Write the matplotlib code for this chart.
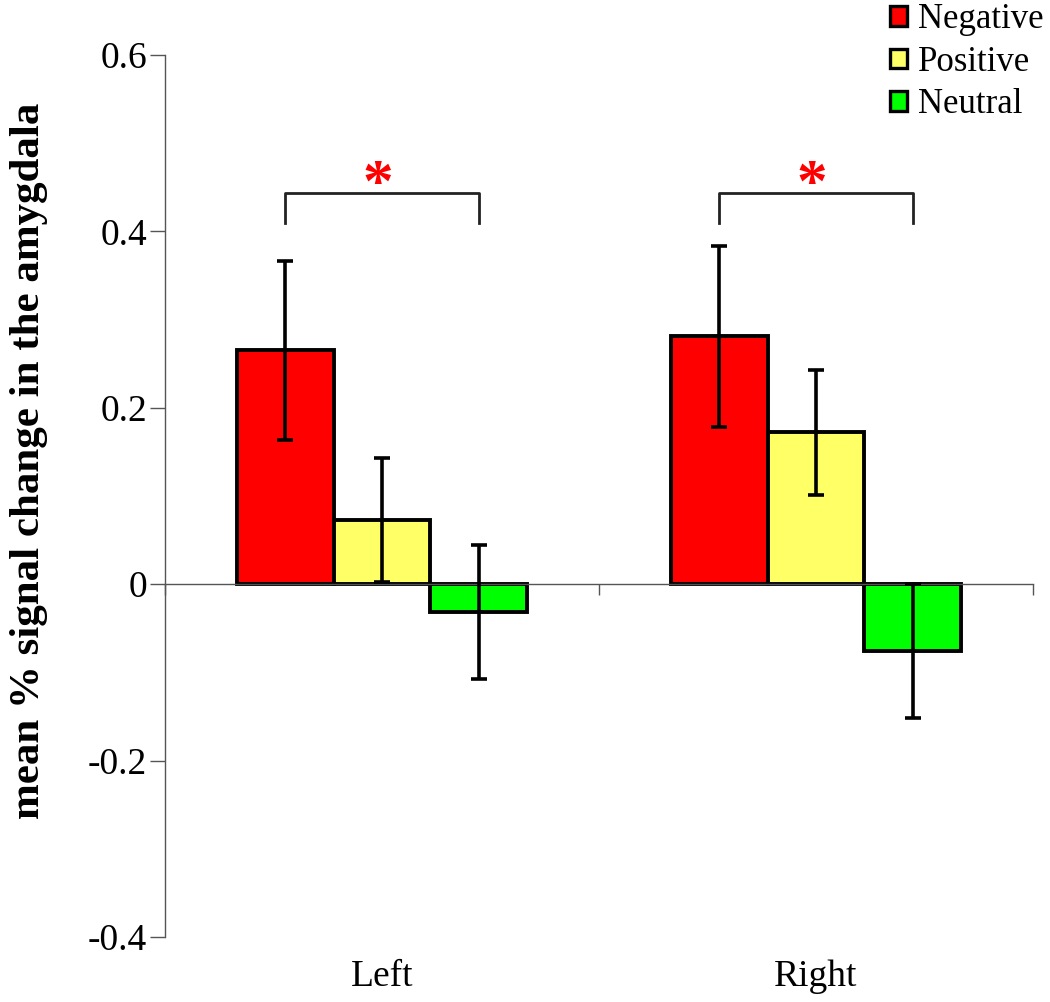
import numpy as np
import matplotlib
matplotlib.use("Agg")
import matplotlib.pyplot as plt

plt.rcParams['font.family'] = ['Liberation Serif', 'DejaVu Serif']

# --- data --- #
sides = ["Left", "Right"]
conditions = ["Negative", "Positive", "Neutral"]
colors = ["#FF0000", "#FFFF66", "#00FF00"]
means = {
    "Negative": [0.265, 0.281],
    "Positive": [0.073, 0.172],
    "Neutral": [-0.032, -0.076],
}
errors = {
    "Negative": [0.102, 0.103],
    "Positive": [0.070, 0.071],
    "Neutral": [0.076, 0.076],
}
yticks = [0.6, 0.4, 0.2, 0, -0.2, -0.4]
ytick_labels = ["0.6", "0.4", "0.2", "0", "-0.2", "-0.4"]

# --- figure --- #
fig = plt.figure(figsize=(10.5, 10.02), dpi=100)
ax = fig.add_axes([165 / 1050, 65 / 1002, 868 / 1050, 882 / 1002])

x = np.arange(len(sides))
w = 0.2235
for i, cond in enumerate(conditions):
    ax.bar(x + (i - 1) * w, means[cond], width=w, color=colors[i],
           edgecolor="black", linewidth=2.8, label=cond, zorder=2)
    ax.errorbar(x + (i - 1) * w, means[cond], yerr=errors[cond], fmt="none",
                ecolor="black", elinewidth=2.6, capsize=6, capthick=2.6,
                zorder=3)

# significance brackets
for xi in x:
    x0, x1 = xi - w, xi + w
    ax.plot([x0, x0, x1, x1], [0.41, 0.444, 0.444, 0.41], color="#222222",
            linewidth=2.0, zorder=3)
    ax.text(xi - 0.01, 0.452, "*", color="red", fontsize=44, fontweight="bold",
            ha="center", va="center")

ax.set_xlim(-0.5, 1.5)
ax.set_ylim(-0.4, 0.6)

for s in ["top", "right"]:
    ax.spines[s].set_visible(False)
ax.spines["bottom"].set_position(("data", 0))
ax.spines["left"].set_color("#555555")
ax.spines["bottom"].set_color("#555555")
ax.spines["left"].set_linewidth(1.0)
ax.spines["bottom"].set_linewidth(1.0)

ax.set_yticks(yticks)
ax.set_yticklabels(ytick_labels, fontsize=27)
ax.tick_params(axis="y", direction="out", length=11, width=1.0,
               color="#555555", pad=2)

ax.set_xticks([-0.5, 0.5, 1.5])
ax.set_xticklabels([])
ax.tick_params(axis="x", direction="out", length=8, width=1.0,
               color="#555555")
for xi, name in zip(x, sides):
    ax.text(xi, -0.045, name, transform=ax.get_xaxis_transform(),
            ha="center", va="center", fontsize=27)

ax.set_ylabel("mean % signal change in the amygdala", fontsize=31,
              fontweight="bold")
ax.yaxis.set_label_coords(-0.135, 0.54)

leg = ax.legend(loc="upper left", bbox_to_anchor=(890 / 1050, 0.997),
                bbox_transform=fig.transFigure, frameon=False, fontsize=25,
                handlelength=0.5, handleheight=0.5, handletextpad=0.3,
                labelspacing=0.28, borderaxespad=0, borderpad=0)
for p in leg.get_patches():
    p.set_linewidth(2.4)

fig.savefig("out.png", dpi=100, facecolor="white")
